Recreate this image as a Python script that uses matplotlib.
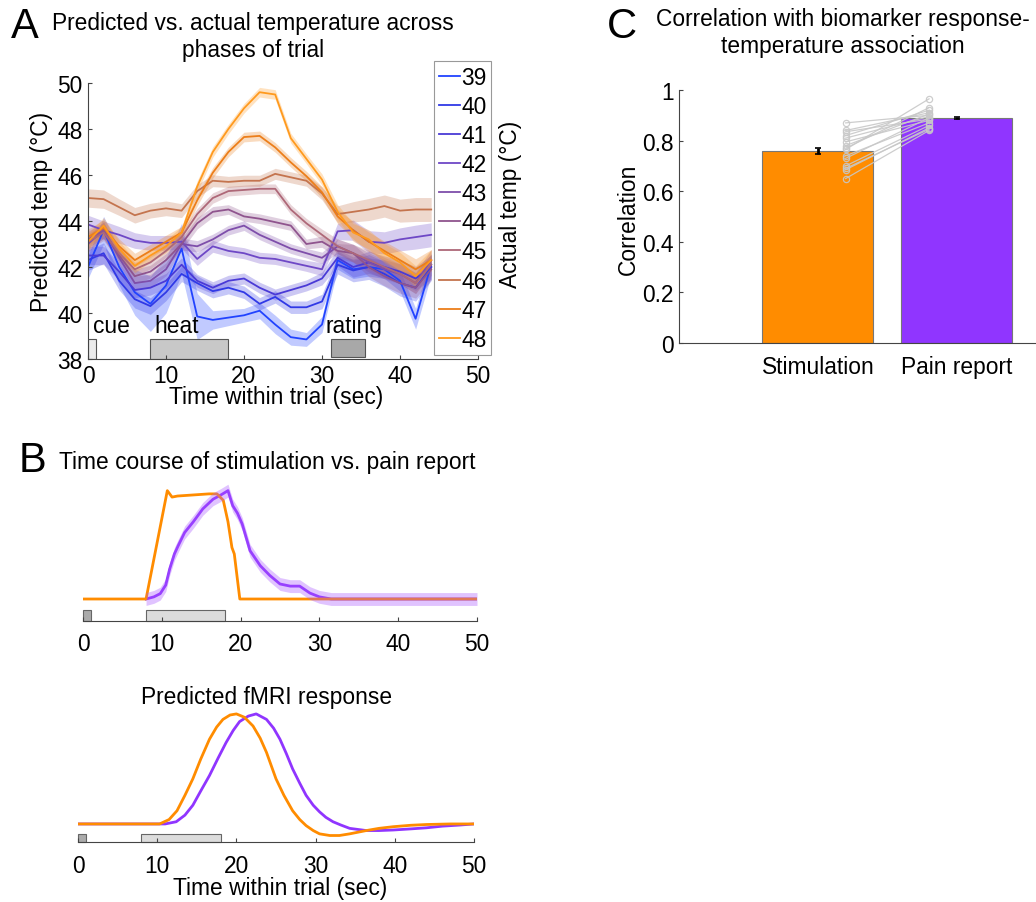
"""
Recreate the three-panel figure: predicted vs. actual temperature (A),
stimulation vs. pain report time courses (B) and correlations (C).
"""

import matplotlib
matplotlib.use('Agg')
import matplotlib.pyplot as plt
from matplotlib.patches import Rectangle
import numpy as np

plt.rcParams['font.family'] = ['Liberation Sans', 'DejaVu Sans']

# ============================================================================
# DATA
# ============================================================================

# Panel A: predicted temperature per actual temperature, every 2 s
time_a = [0, 2, 4, 6, 8, 10, 12, 14, 16, 18, 20, 22, 24, 26, 28, 30, 32, 34, 36, 38, 40, 42, 44]
actual_temps = [39, 40, 41, 42, 43, 44, 45, 46, 47, 48]
pred_39 = [42.0, 43.6, 42.0, 40.9, 40.4, 41.2, 42.8, 39.85, 39.7, 39.8, 39.9, 40.1, 39.5, 38.95, 38.85, 39.5, 42.3, 41.9, 42.0, 41.9, 41.4, 39.75, 42.1]
pred_40 = [42.3, 42.6, 41.4, 40.6, 40.3, 40.9, 41.7, 41.3, 40.95, 41.1, 40.9, 40.4, 40.7, 40.25, 40.25, 40.5, 42.1, 41.85, 42.0, 41.7, 41.3, 41.1, 42.0]
pred_41 = [42.5, 42.5, 41.8, 41.0, 41.1, 41.4, 42.1, 41.4, 41.1, 41.4, 41.5, 41.1, 40.8, 41.0, 41.2, 41.5, 42.4, 42.0, 42.2, 42.0, 41.8, 41.5, 42.0]
pred_42 = [43.85, 43.6, 43.4, 43.15, 43.05, 43.05, 43.1, 42.35, 42.9, 42.7, 42.6, 42.4, 42.35, 42.2, 42.05, 41.9, 43.55, 43.6, 43.1, 43.05, 43.2, 43.3, 43.4]
pred_43 = [43.0, 43.6, 42.4, 41.3, 41.4, 41.9, 43.0, 42.9, 43.2, 43.6, 43.8, 43.4, 43.1, 42.8, 42.6, 42.4, 42.9, 42.6, 42.2, 41.9, 41.7, 41.3, 42.3]
pred_44 = [43.2, 43.6, 42.5, 41.6, 41.8, 42.3, 43.0, 43.9, 44.4, 44.5, 44.2, 44.1, 43.95, 43.8, 43.0, 43.1, 42.7, 42.6, 42.0, 41.6, 41.3, 41.1, 41.9]
pred_45 = [43.1, 43.5, 42.6, 41.9, 42.2, 42.7, 43.3, 44.3, 45.0, 45.3, 45.35, 45.4, 45.4, 44.5, 43.9, 43.4, 42.9, 42.6, 42.3, 42.0, 41.7, 41.3, 42.1]
pred_46 = [45.0, 44.95, 44.6, 44.25, 44.45, 44.55, 44.45, 45.3, 45.75, 45.7, 45.75, 45.75, 46.05, 45.9, 45.75, 45.2, 44.3, 44.4, 44.5, 44.65, 44.45, 44.5, 44.5]
pred_47 = [43.3, 43.7, 42.9, 42.3, 42.7, 43.1, 43.5, 44.9, 46.1, 47.0, 47.65, 47.7, 47.2, 46.55, 45.95, 45.25, 44.2, 43.6, 43.1, 42.7, 42.3, 41.9, 42.3]
pred_48 = [43.1, 43.8, 42.8, 42.05, 42.5, 42.9, 43.5, 45.5, 47.0, 48.0, 48.9, 49.6, 49.5, 47.6, 46.7, 45.8, 44.4, 43.5, 43.2, 42.6, 42.2, 41.6, 42.3]
predicted = [pred_39, pred_40, pred_41, pred_42, pred_43,
             pred_44, pred_45, pred_46, pred_47, pred_48]
# standard error: per-series size and shared time profile, 39 read on its own
se_series = [1.0, 0.45, 0.4, 0.4, 0.35, 0.35, 0.35, 0.4, 0.35, 0.35]
se_time = [1.0, 1.0, 0.9, 0.85, 0.8, 0.8, 0.75, 0.7, 0.65, 0.6, 0.6, 0.6, 0.6, 0.6, 0.6, 0.7, 0.9, 1.1, 1.2, 1.2, 1.25, 1.3, 1.3]
se_39 = [0.5, 0.6, 0.8, 1.0, 1.2, 1.2, 1.1, 1.0, 0.4, 0.35, 0.3, 0.35, 0.4, 0.35, 0.3, 0.35, 0.4, 0.4, 0.4, 0.4, 0.45, 0.45, 0.45]

# Trial phases (sec)
cue_phase = [0, 1]
heat_phase = [8, 18]
rating_phase = [31.2, 35.5]

# Panel B top: stimulation and pain report time courses (normalised)
t_stim = [0, 8.0, 10.7, 11.3, 12.0, 14.0, 16.0, 17.0, 17.8, 18.4, 18.9, 19.2, 19.9, 50]
v_stim = [0, 0, 1.01, 0.95, 0.96, 0.97, 0.98, 0.98, 0.92, 0.72, 0.48, 0.42, 0.0, 0]
t_pain = [0, 8.0, 9.0, 9.8, 10.5, 11.0, 11.6, 12.1, 12.9, 14.0, 15.2, 16.5, 17.5, 18.4,
          19.0, 19.6, 20.2, 21.2, 22.5, 23.7, 25.0, 26.3, 27.5, 28.8, 30.0, 31.5, 50]
v_pain = [0, 0, 0.02, 0.05, 0.13, 0.28, 0.42, 0.50, 0.62, 0.72, 0.84, 0.93, 0.97, 1.01,
          0.87, 0.80, 0.70, 0.45, 0.31, 0.22, 0.14, 0.12, 0.12, 0.055, 0.02, 0, 0]
se_pain = 0.06

# Panel B bottom: predicted fMRI response
t_fmri_stim = [0, 10.3, 11.5, 12.5, 13.5, 14.5, 15.5, 16.6, 17.5, 18.3, 19.2, 20.0, 21.0, 22.1,
               23.0, 23.8, 25.0, 26.0, 27.1, 28.0, 28.8, 29.7, 30.5, 31.8, 33.0, 34.3, 36.4,
               38.0, 39.8, 42.0, 44.0, 47.0, 50.0]
v_fmri_stim = [0, 0, 0.04, 0.12, 0.26, 0.41, 0.59, 0.77, 0.88, 0.95, 0.99, 1.0, 0.97, 0.89,
               0.78, 0.65, 0.41, 0.26, 0.12, 0.04, -0.015, -0.06, -0.09, -0.105, -0.105, -0.09, -0.06,
               -0.04, -0.025, -0.012, -0.005, 0, 0]
t_fmri_pain = [0, 11.0, 12.4, 13.5, 14.5, 15.5, 16.6, 17.7, 18.7, 19.6, 20.4, 21.5, 22.5, 23.8,
               24.7, 25.5, 26.3, 27.1, 28.0, 28.8, 29.7, 30.5, 31.3, 32.2, 33.2, 34.3, 36.4,
               38.0, 39.8, 42.0, 44.0, 46.0, 48.2, 50.0]
v_fmri_pain = [0, 0, 0.02, 0.08, 0.17, 0.30, 0.44, 0.60, 0.74, 0.85, 0.93, 0.98, 1.0, 0.95,
               0.87, 0.77, 0.64, 0.50, 0.37, 0.26, 0.17, 0.11, 0.06, 0.02, -0.01, -0.04, -0.06,
               -0.06, -0.055, -0.045, -0.035, -0.02, -0.01, 0]

# Panel C: correlations
conditions = ['Stimulation', 'Pain report']
corr_mean = [0.76, 0.89]
corr_sem = [0.012, 0.005]
subj_stim = [0.87, 0.84, 0.835, 0.82, 0.81, 0.795, 0.78, 0.77, 0.765, 0.74, 0.73, 0.70, 0.69, 0.685, 0.65]
subj_pain = [0.90, 0.91, 0.885, 0.92, 0.895, 0.88, 0.905, 0.93, 0.965, 0.87, 0.89, 0.86, 0.845, 0.85, 0.84]

# ============================================================================
# STYLE
# ============================================================================

W, H = 1036, 903
FS = 16.4
ORANGE = '#FF8C00'
PURPLE = '#9035FF'
SPINE = '#444444'
TEMP_COLORS = ['#2143FF', '#3039E6', '#4A3AD6', '#6E48C6', '#7E4EAA', '#8F548E',
               '#AE6878', '#C4744E', '#EC7E1A', '#FF9A1E']


def px_rect(left, top, right, bottom):
    """Axes rectangle from pixel edges."""
    return [left / W, 1 - bottom / H, (right - left) / W, (bottom - top) / H]


def fx(x):
    return x / W


def fy(y):
    return 1 - y / H


def style_axes(ax, left_spine=True):
    for side in ['top', 'right']:
        ax.spines[side].set_visible(False)
    ax.spines['left'].set_visible(left_spine)
    for side in ['left', 'bottom']:
        ax.spines[side].set_color(SPINE)
        ax.spines[side].set_linewidth(0.8)
    ax.tick_params(direction='in', length=3, width=0.8, color=SPINE,
                   labelsize=FS, pad=4)
    if not left_spine:
        ax.set_yticks([])


fig = plt.figure(figsize=(W / 100, H / 100), dpi=100)

# ============================================================================
# PANEL A
# ============================================================================

ax_a = fig.add_axes(px_rect(88, 84, 478, 360))
t = np.array(time_a)
for i, temp in enumerate(actual_temps):
    y = np.array(predicted[i])
    if temp == 39:
        se = np.array(se_39)
    else:
        se = se_series[i] * np.array(se_time)
    ax_a.fill_between(t, y - se, y + se, color=TEMP_COLORS[i], alpha=0.28, lw=0)
    ax_a.plot(t, y, color=TEMP_COLORS[i], lw=1.3, label=str(temp))

ax_a.add_patch(Rectangle((cue_phase[0], 38), cue_phase[1] - cue_phase[0], 0.85,
                         facecolor='#EBEBEB', edgecolor='#555555', lw=0.8))
ax_a.add_patch(Rectangle((heat_phase[0], 38), heat_phase[1] - heat_phase[0], 0.85,
                         facecolor='#C8C8C8', edgecolor='#555555', lw=0.8))
ax_a.add_patch(Rectangle((rating_phase[0], 38.1), rating_phase[1] - rating_phase[0], 0.75,
                         facecolor='#A8A8A8', edgecolor='#555555', lw=0.8))
ax_a.text(0.6, 39.45, 'cue', fontsize=FS, va='center')
ax_a.text(8.5, 39.45, 'heat', fontsize=FS, va='center')
ax_a.text(30.4, 39.45, 'rating', fontsize=FS, va='center')

ax_a.set_xlim(0, 50)
ax_a.set_ylim(38, 50)
ax_a.set_xticks(range(0, 51, 10))
ax_a.set_yticks(range(38, 51, 2))
style_axes(ax_a)
ax_a.tick_params(axis='x', pad=3.5)

handles, labels = ax_a.get_legend_handles_labels()
leg = fig.legend(handles, labels, loc='upper left',
                 bbox_to_anchor=(fx(434), fy(62)), bbox_transform=fig.transFigure,
                 borderaxespad=0, borderpad=0.2, labelspacing=0.27,
                 handlelength=0.95, handletextpad=0.05, fontsize=FS,
                 fancybox=False, framealpha=1, edgecolor='#999999')
leg.get_frame().set_linewidth(0.8)

fig.text(fx(253), fy(37), 'Predicted vs. actual temperature across\nphases of trial',
         ha='center', va='center', fontsize=FS, linespacing=1.25)
fig.text(fx(276), fy(398), 'Time within trial (sec)', ha='center', va='center', fontsize=FS)
fig.text(fx(42), fy(212), 'Predicted temp (°C)', rotation=90,
         ha='center', va='center', fontsize=FS)
fig.text(fx(510), fy(204), 'Actual temp (°C)', rotation=90,
         ha='center', va='center', fontsize=FS)
fig.text(fx(25), fy(27), 'A', ha='center', va='center', fontsize=30)

# ============================================================================
# PANEL B
# ============================================================================


def add_phase_boxes(ax, y0, height):
    ax.add_patch(Rectangle((cue_phase[0], y0), cue_phase[1] - cue_phase[0], height,
                           facecolor='#ABABAB', edgecolor='#666666', lw=0.8, clip_on=False))
    ax.add_patch(Rectangle((heat_phase[0], y0), heat_phase[1] - heat_phase[0], height,
                           facecolor='#DCDCDC', edgecolor='#666666', lw=0.8, clip_on=False))


ax_b1 = fig.add_axes(px_rect(83, 482, 477, 622))
tp = np.array(t_pain)
vp = np.array(v_pain)
ax_b1.plot(tp[1:], vp[1:], color=PURPLE, lw=2, zorder=2)
ax_b1.plot(t_stim, v_stim, color=ORANGE, lw=2, zorder=3)
band = tp >= 8
ax_b1.fill_between(tp[band], vp[band] - se_pain, vp[band] + se_pain,
                   color='#A855FF', alpha=0.35, lw=0, zorder=4)
add_phase_boxes(ax_b1, -0.205, 0.1)
ax_b1.set_xlim(0, 50)
ax_b1.set_ylim(-0.205, 1.1)
ax_b1.set_xticks(range(0, 51, 10))
style_axes(ax_b1, left_spine=False)
ax_b1.tick_params(axis='x', pad=8)

fig.text(fx(267), fy(463), 'Time course of stimulation vs. pain report',
         ha='center', va='center', fontsize=FS)
fig.text(fx(32), fy(461), 'B', ha='center', va='center', fontsize=30)

ax_b2 = fig.add_axes(px_rect(78, 705, 474, 843))
ax_b2.plot(t_fmri_pain, v_fmri_pain, color=PURPLE, lw=2, zorder=2)
ax_b2.plot(t_fmri_stim, v_fmri_stim, color=ORANGE, lw=2, zorder=3)
add_phase_boxes(ax_b2, -0.164, 0.075)
ax_b2.set_xlim(0, 50)
ax_b2.set_ylim(-0.164, 1.09)
ax_b2.set_xticks(range(0, 51, 10))
style_axes(ax_b2, left_spine=False)
ax_b2.tick_params(axis='x', pad=9)

fig.text(fx(267), fy(698), 'Predicted fMRI response', ha='center', va='center', fontsize=FS)
fig.text(fx(280), fy(889), 'Time within trial (sec)', ha='center', va='center', fontsize=FS)

# ============================================================================
# PANEL C
# ============================================================================

ax_c = fig.add_axes(px_rect(679, 91, 1036, 344))
x = np.array([1, 2])
ax_c.bar(x, corr_mean, width=0.8, color=[ORANGE, PURPLE], edgecolor='#777777', lw=0.8)
for s, p in zip(subj_stim, subj_pain):
    ax_c.plot([1.2, 1.8], [s, p], color='#C8C8C8', lw=0.9, marker='o',
              ms=4.5, mfc='none', mec='#C8C8C8', mew=0.9, alpha=0.9)
ax_c.errorbar(x, corr_mean, yerr=corr_sem, fmt='none', ecolor='black',
              elinewidth=2, capsize=2, capthick=1.2)
ax_c.set_xlim(0, 2.57)
ax_c.set_ylim(0, 1)
ax_c.set_yticks([0, 0.2, 0.4, 0.6, 0.8, 1])
ax_c.set_yticklabels(['0', '0.2', '0.4', '0.6', '0.8', '1'])
ax_c.set_xticks(x)
ax_c.set_xticklabels(conditions)
style_axes(ax_c)
ax_c.tick_params(axis='x', length=0, pad=9)

fig.text(fx(843), fy(33), 'Correlation with biomarker response-\ntemperature association',
         ha='center', va='center', fontsize=FS, linespacing=1.2)
fig.text(fx(628), fy(219), 'Correlation', rotation=90, ha='center', va='center', fontsize=FS)
fig.text(fx(622), fy(27), 'C', ha='center', va='center', fontsize=30)

plt.savefig('out.png', dpi=100)
